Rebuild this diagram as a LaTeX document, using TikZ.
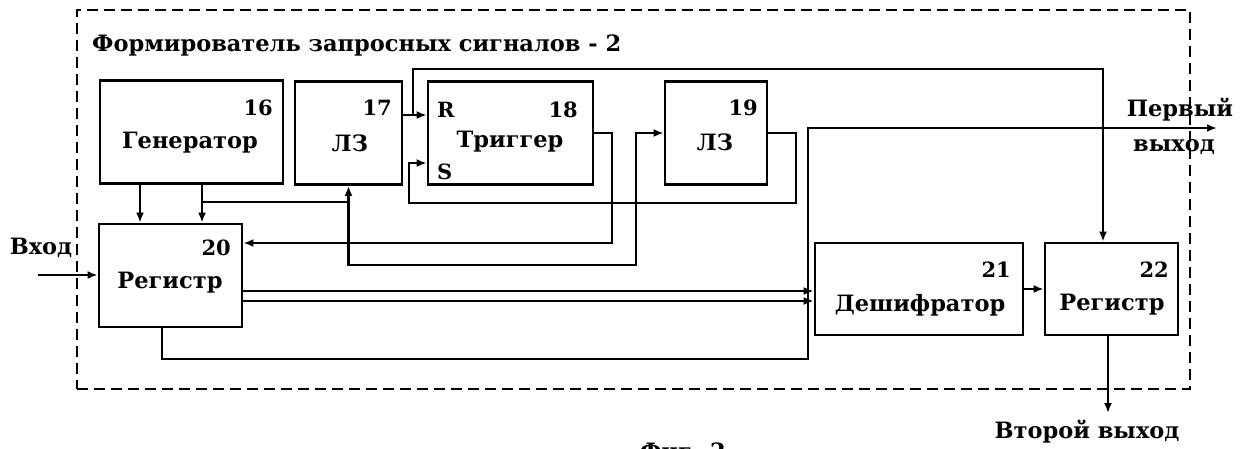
\documentclass[tikz,border=0pt]{standalone}
\usepackage{fontspec}
\setmainfont{DejaVu Serif}
\usetikzlibrary{arrows.meta}
\begin{document}
\begin{tikzpicture}[x=1pt,y=-1pt,
  box/.style={draw, line width=2.8pt, inner sep=0pt},
  txt/.style={font=\fontsize{22.5}{26}\selectfont\bfseries, inner sep=0pt},
  num/.style={font=\fontsize{21}{24}\selectfont\bfseries, inner sep=0pt},
  wire/.style={line width=2.2pt},
  arr/.style={wire, -{Latex[length=10pt,width=8pt]}},
  frame/.style={draw, line width=1.6pt, dash pattern=on 11pt off 6pt, inner sep=0pt}]
\useasboundingbox (0,0) rectangle (1249,448);
% frame
\node[frame, minimum width=1113pt, minimum height=379pt] (fr) at (633.5,199.5) {};
\node[txt, anchor=west] (title) at (92,45) {Формирователь запросных сигналов - 2};
% blocks
\node[box, minimum width=183pt, minimum height=103pt] (g) at (191.5,132) {};
\node[box, minimum width=107pt, minimum height=103pt] (d17) at (348.5,133) {};
\node[box, minimum width=165pt, minimum height=103pt] (tr) at (510.5,133) {};
\node[box, minimum width=102pt, minimum height=103pt] (d19) at (716,133) {};
\node[box, minimum width=143pt, minimum height=103pt] (r20) at (170.5,275.5) {};
\node[box, minimum width=208pt, minimum height=92pt] (dc) at (919,289) {};
\node[box, minimum width=133pt, minimum height=92pt] (r22) at (1111.5,289) {};
% labels
\node[num, anchor=east] (n16) at (273,108) {16};
\node[txt] (l16) at (190,143) {Генератор};
\node[num, anchor=east] (n17) at (392,108) {17};
\node[txt] (l17) at (350,143) {ЛЗ};
\node[num, anchor=west] (lR) at (437,110) {R};
\node[num, anchor=east] (n18) at (578,110) {18};
\node[txt] (l18) at (510,142) {Триггер};
\node[num, anchor=west] (lS) at (437,172) {S};
\node[num, anchor=east] (n19) at (758,108) {19};
\node[txt] (l19) at (715,142) {ЛЗ};
\node[num, anchor=east] (n20) at (231,248) {20};
\node[txt] (l20) at (170,283) {Регистр};
\node[num, anchor=east] (n21) at (1011,270) {21};
\node[txt] (l21) at (920,305) {Дешифратор};
\node[num, anchor=east] (n22) at (1169,270) {22};
\node[txt] (l22) at (1112,305) {Регистр};
\node[txt] (lin) at (41,248) {Вход};
\node[txt] (lo1a) at (1180,110) {Первый};
\node[txt] (lo1b) at (1174,147) {выход};
\node[txt] (lo2) at (1087,432) {Второй выход};
\node[txt, anchor=north] (fig) at (683,443) {Фиг. 2};
% coordinates
\coordinate (c140) at (140,0);
\coordinate (j1) at (202,202);
\coordinate (j2) at (636,265);
\coordinate (k1) at (612,243);
\coordinate (k2) at (413,115);
\coordinate (k3) at (1103,69);
\coordinate (k5) at (796,203);
\coordinate (k6) at (409,163);
\coordinate (m1) at (0,291);
\coordinate (m2) at (0,301);
\coordinate (n0) at (162,0);
\coordinate (n2) at (808,359);
\coordinate (out1) at (1217,128);
\coordinate (o1) at (1108,413);
\coordinate (in0) at (38,275);
% connectors
\draw[arr] (g.south -| c140) -- (r20.north -| c140);
\draw[arr] (g.south -| j1) -- (r20.north -| j1);
\draw[arr] (j1) -| (d17.south);
\draw[arr] (d17.south |- j1) |- (j2) |- (d19.west);
\draw[arr] (tr.east) -| (k1) -- (k1 -| r20.east);
\draw[arr] (d17.east |- k2) -- (tr.west |- k2);
\draw[arr] (k2) |- (k3) -- (k3 |- r22.north);
\draw[arr] (d19.east) -| (k5) -| (k6) -- (k6 -| tr.west);
\draw[arr] (r20.east |- m1) -- (dc.west |- m1);
\draw[arr] (r20.east |- m2) -- (dc.west |- m2);
\draw[arr] (r20.south -| n0) |- (n2) |- (out1);
\draw[arr] (dc.east) -- (r22.west);
\draw[arr] (r22.south -| o1) -- (o1);
\draw[arr] (in0) -- (r20.west |- in0);
\end{tikzpicture}
\end{document}
